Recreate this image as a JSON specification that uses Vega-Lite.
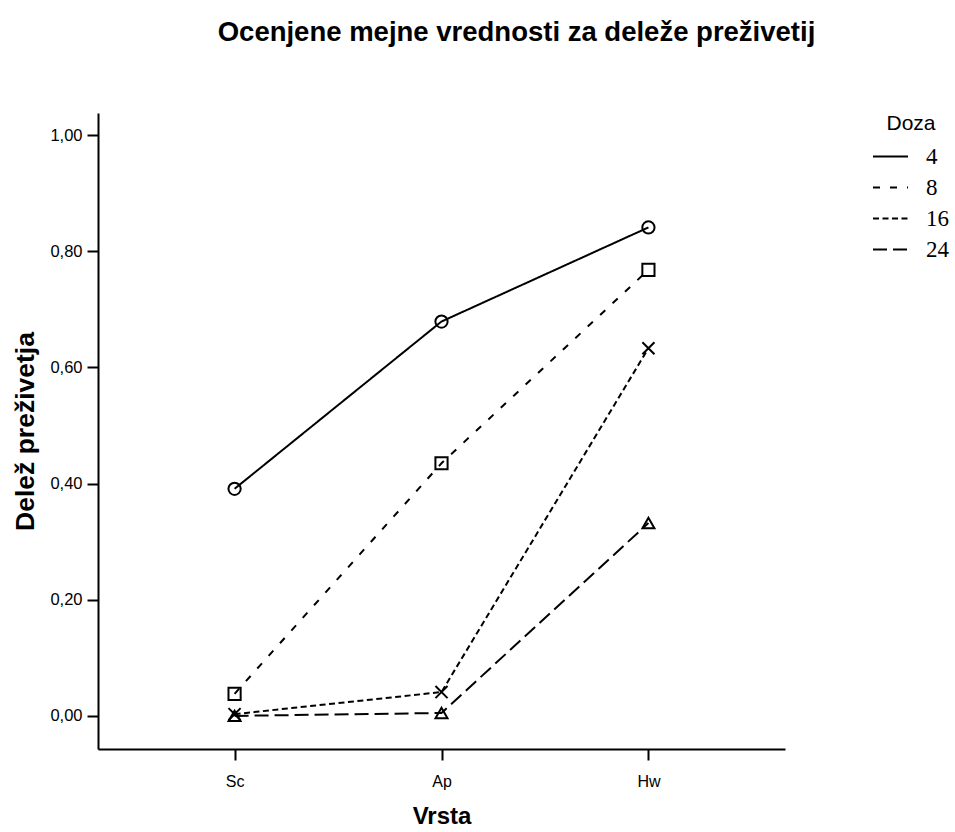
{
  "$schema": "https://vega.github.io/schema/vega-lite/v6.json",
  "width": 687,
  "height": 636,
  "autosize": {"type": "none"},
  "padding": {"left": 98, "top": 113, "right": 170, "bottom": 83},
  "background": "white",
  "title": {
    "text": "Ocenjene mejne vrednosti za deleže preživetij",
    "font": "Liberation Sans",
    "fontSize": 27.5,
    "fontWeight": "bold",
    "color": "black",
    "anchor": "middle",
    "dx": 75,
    "offset": 67
  },
  "data": {
    "values": [
      {"Vrsta": "Sc", "Doza": "4", "Delez": 0.391},
      {"Vrsta": "Ap", "Doza": "4", "Delez": 0.679},
      {"Vrsta": "Hw", "Doza": "4", "Delez": 0.841},
      {"Vrsta": "Sc", "Doza": "8", "Delez": 0.038},
      {"Vrsta": "Ap", "Doza": "8", "Delez": 0.435},
      {"Vrsta": "Hw", "Doza": "8", "Delez": 0.768},
      {"Vrsta": "Sc", "Doza": "16", "Delez": 0.003},
      {"Vrsta": "Ap", "Doza": "16", "Delez": 0.041},
      {"Vrsta": "Hw", "Doza": "16", "Delez": 0.633},
      {"Vrsta": "Sc", "Doza": "24", "Delez": 0.0},
      {"Vrsta": "Ap", "Doza": "24", "Delez": 0.005},
      {"Vrsta": "Hw", "Doza": "24", "Delez": 0.332}
    ]
  },
  "encoding": {
    "x": {
      "field": "Vrsta",
      "type": "nominal",
      "sort": ["Sc", "Ap", "Hw"],
      "scale": {"type": "point", "padding": 0.66},
      "axis": {
        "title": "Vrsta",
        "labelAngle": 0,
        "labelFontSize": 16,
        "labelPadding": 13,
        "titleFontSize": 24,
        "titlePadding": 15
      }
    },
    "y": {
      "field": "Delez",
      "type": "quantitative",
      "scale": {"domain": [-0.057, 1.038], "nice": false, "zero": false},
      "axis": {
        "title": "Delež preživetja",
        "values": [0, 0.2, 0.4, 0.6, 0.8, 1.0],
        "labelExpr": "replace(format(datum.value, '.2f'), '.', ',')",
        "labelFontSize": 16.5,
        "labelPadding": 5,
        "titleFontSize": 26.5,
        "titlePadding": 10
      }
    }
  },
  "layer": [
    {
      "mark": {"type": "line", "color": "black", "strokeWidth": 2},
      "encoding": {
        "strokeDash": {
          "field": "Doza",
          "type": "nominal",
          "sort": ["4", "8", "16", "24"],
          "scale": {
            "domain": ["4", "8", "16", "24"],
            "range": [[1, 0], [7, 10], [6, 3.5], [14, 6]]
          },
          "legend": {
            "title": "Doza",
            "orient": "none",
            "legendX": 774,
            "legendY": 0,
            "symbolType": "stroke"
          }
        }
      }
    },
    {
      "mark": {"type": "point", "filled": false, "color": "black", "strokeWidth": 2, "opacity": 1},
      "encoding": {
        "shape": {
          "field": "Doza",
          "type": "nominal",
          "scale": {
            "domain": ["4", "8", "16", "24"],
            "range": ["circle", "square", "M-1,-1L1,1M-1,1L1,-1", "triangle-up"]
          },
          "legend": null
        },
        "size": {
          "field": "Doza",
          "type": "nominal",
          "scale": {"domain": ["4", "8", "16", "24"], "range": [150, 144, 90, 110]},
          "legend": null
        }
      }
    }
  ],
  "resolve": {"legend": {"strokeDash": "independent", "shape": "independent", "size": "independent"}},
  "config": {
    "view": {"stroke": null},
    "font": "Liberation Sans",
    "axis": {
      "grid": false,
      "domainColor": "black",
      "domainWidth": 2,
      "tickColor": "black",
      "tickWidth": 2,
      "tickSize": 11,
      "labelColor": "black",
      "labelFont": "Liberation Sans",
      "titleColor": "black",
      "titleFont": "Liberation Sans",
      "titleFontWeight": "bold"
    },
    "legend": {
      "symbolType": "stroke",
      "symbolSize": 1225,
      "symbolStrokeWidth": 2,
      "symbolStrokeColor": "black",
      "labelFont": "Liberation Serif",
      "labelFontSize": 23,
      "labelColor": "black",
      "labelOffset": 17,
      "titleFont": "Liberation Sans",
      "titleFontSize": 21,
      "titleFontWeight": "normal",
      "titleColor": "black",
      "titleAnchor": "middle",
      "titlePadding": 4,
      "rowPadding": 0
    }
  }
}
